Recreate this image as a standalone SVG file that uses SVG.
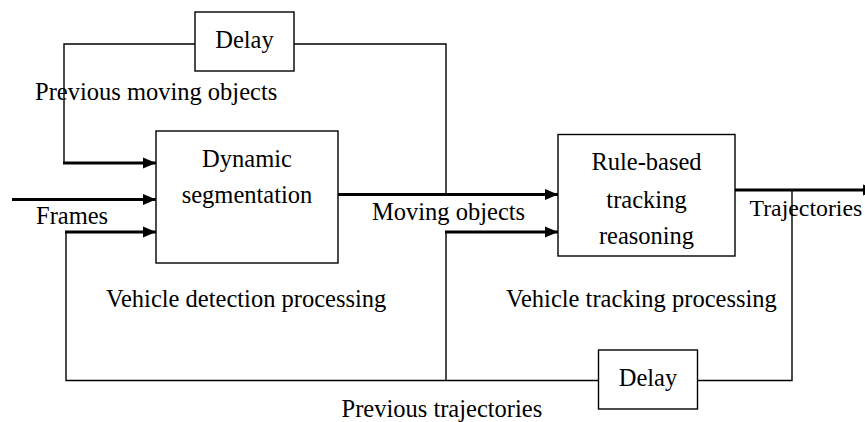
<svg xmlns="http://www.w3.org/2000/svg" width="865" height="422" viewBox="0 0 865 422">
  <defs>
    <marker id="arrow" markerUnits="userSpaceOnUse" markerWidth="13" markerHeight="12" refX="13" refY="6" orient="auto">
      <path d="M0,0.5 L13,6 L0,11.5 z" fill="#000"/>
    </marker>
    <style>
      .box { fill: #fff; stroke: #000; stroke-width: 1.4; }
      .thin { fill: none; stroke: #000; stroke-width: 1.4; }
      .thick { fill: none; stroke: #000; stroke-width: 3; }
      .arr { marker-end: url(#arrow); }
      text { font-family: "Liberation Serif", "Times New Roman", serif; font-size: 24.5px; fill: #000; }
      .c { text-anchor: middle; }
      .edge { font-size: 23.8px; }
    </style>
  </defs>
  <rect width="865" height="422" fill="#fff"/>

  <!-- connectors -->
  <g id="connectors">
    <!-- upper feedback loop through the first delay -->
    <polyline class="thin" points="446,194.5 446,44 294,44"/>
    <polyline class="thin" points="195,44 64,44 64,163"/>
    <line class="thick arr" x1="63" y1="163" x2="156" y2="163"/>
    <!-- frames input -->
    <line class="thick arr" x1="12" y1="199.5" x2="156" y2="199.5"/>
    <!-- lower feedback loop through the second delay -->
    <polyline class="thin" points="792,190 792,380.5 697,380.5"/>
    <polyline class="thin" points="598,380.5 66,380.5 66,232"/>
    <line class="thick arr" x1="65" y1="232" x2="156" y2="232"/>
    <line class="thin" x1="446" y1="380.5" x2="446" y2="232"/>
    <line class="thick arr" x1="445" y1="232" x2="558" y2="232"/>
    <!-- moving objects -->
    <line class="thick arr" x1="338" y1="194.5" x2="558" y2="194.5"/>
    <!-- trajectories output -->
    <line class="thick arr" x1="735" y1="190" x2="876" y2="190"/>
  </g>

  <!-- nodes -->
  <g id="delay-top">
    <rect class="box" x="195" y="12" width="99" height="59"/>
    <text class="c" x="244.5" y="48">Delay</text>
  </g>
  <g id="dynamic-segmentation">
    <rect class="box" x="156" y="131" width="182" height="132"/>
    <text class="c" x="247" y="167">Dynamic</text>
    <text class="c" x="247" y="203">segmentation</text>
  </g>
  <g id="rule-based-tracking">
    <rect class="box" x="558" y="134.5" width="177" height="121.5"/>
    <text class="c" x="646.5" y="170">Rule-based</text>
    <text class="c" x="646.5" y="208">tracking</text>
    <text class="c" x="646.5" y="244">reasoning</text>
  </g>
  <g id="delay-bottom">
    <rect class="box" x="598.5" y="350" width="99" height="59"/>
    <text class="c" x="648" y="386">Delay</text>
  </g>

  <!-- labels -->
  <g id="labels">
    <text x="35" y="100">Previous moving objects</text>
    <text x="36" y="223.5">Frames</text>
    <text x="372" y="220">Moving objects</text>
    <text class="edge" x="749.5" y="215.5">Trajectories</text>
    <text x="106" y="307">Vehicle detection processing</text>
    <text x="506" y="307">Vehicle tracking processing</text>
    <text x="341.5" y="416.5">Previous trajectories</text>
  </g>
</svg>
